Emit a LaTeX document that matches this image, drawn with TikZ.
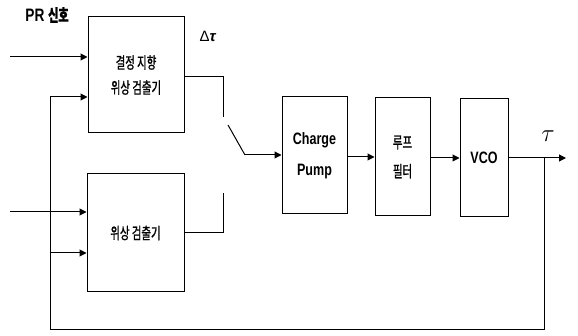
\documentclass[tikz,border=0pt]{standalone}
\usepackage{fontspec}
\setmainfont{Liberation Sans}
\newfontfamily\krfont[FakeStretch=0.65, FakeBold=1]{Noto Sans CJK KR}
\newfontfamily\condfont[FakeStretch=0.76]{Liberation Sans}
\usetikzlibrary{arrows.meta}
\tikzset{
  blk/.style={draw, line width=1pt, inner sep=0pt},
  sig/.style={line width=1pt, -{Triangle[length=7pt,width=7pt]}},
  wire/.style={line width=1pt}
}
\begin{document}
\begin{tikzpicture}[x=1pt, y=-1pt]
        \useasboundingbox (0,0) rectangle (578,336);
        % blocks
        \node[blk, minimum width=96pt, minimum height=116pt] (dd) at (136, 75) {};
        \node[align=center, font=\krfont\fontsize{16}{25}\selectfont] at (dd) {결정 지향\\위상 검출기};
        \node[blk, minimum width=97pt, minimum height=118pt] (pd) at (135.5, 233) {};
        \node[font=\krfont\fontsize{16}{16}\selectfont] at (pd) {위상 검출기};
        \node[blk, minimum width=65pt, minimum height=117pt, align=center,
              font=\condfont\bfseries\fontsize{16.5}{31}\selectfont] (cp) at (314.5, 155.5) {Charge\\Pump};
        \node[blk, minimum width=55pt, minimum height=118pt, align=center,
              font=\krfont\fontsize{16}{29}\selectfont] (lf) at (402.5, 157) {루프\\필터};
        \node[blk, minimum width=48pt, minimum height=118pt,
              font=\condfont\bfseries\fontsize{16.5}{16}\selectfont] (vco) at (484, 158) {VCO};
        % labels
        \node[font=\condfont\bfseries\fontsize{18}{18}\selectfont] (pr) at (47, 15) {PR {\krfont\fontsize{17}{17}\selectfont 신호}};
        \node[font=\fontsize{15}{15}\selectfont] (dt) at (208, 36) {Δ\textbf{\textit{τ}}};
        \node[font=\fontsize{30}{30}\selectfont] (tau) at (548, 136) {$\tau$};
        % free ends
        \coordinate (in1) at (10, 57);
        \coordinate (in2) at (10, 212);
        \coordinate (fb1) at (50, 97);
        \coordinate (fb2) at (50, 253);
        \coordinate (fbl) at (50, 330);
        \coordinate (fbr) at (544, 330);
        \coordinate (tap) at (544, 158);
        \coordinate (out) at (566, 158);
        \coordinate (sa) at (223, 117);
        \coordinate (sb) at (223, 193);
        \coordinate (sw1) at (228, 125);
        \coordinate (sw2) at (245, 155);
        % connections
        \draw[sig] (in1) -- (dd.west |- in1);
        \draw[sig] (fb1) -- (dd.west |- fb1);
        \draw[sig] (in2) -- (pd.west |- in2);
        \draw[sig] (fb2) -- (pd.west |- fb2);
        \draw[wire] (dd.east |- 0,77) -| (sa);
        \draw[wire] (pd.east) -| (sb);
        \draw[wire] (sw1) -- (sw2);
        \draw[sig] (sw2) -- (cp.west |- sw2);
        \draw[sig] (cp.east |- 0,157) -- (lf.west |- 0,157);
        \draw[sig] (lf.east |- 0,158) -- (vco.west |- 0,158);
        \draw[sig] (vco.east |- out) -- (out);
        \draw[wire] (tap) -- (fbr) -- (fbl) -- (fb1);
\end{tikzpicture}
\end{document}
